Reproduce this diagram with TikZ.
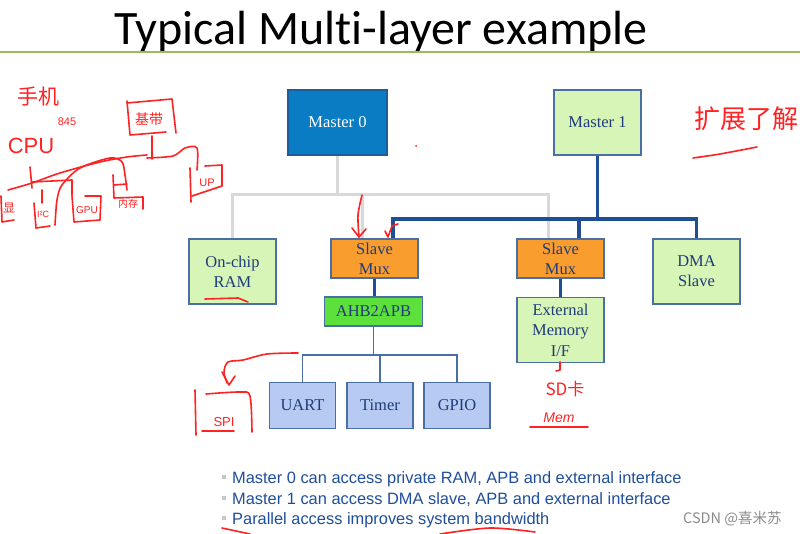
\documentclass[tikz,border=0pt]{standalone}
\usepackage{fontspec}
\setmainfont{Liberation Serif}
\newfontfamily\titlefont[Ligatures={NoCommon}]{Carlito}
\newfontfamily\bulfont{Liberation Sans}
\newfontfamily\cjkfont{Noto Sans CJK SC}
\definecolor{navy}{HTML}{1F3B78}
\definecolor{boxedge}{HTML}{4A6FA5}
\definecolor{mzero}{HTML}{0A7CC4}
\definecolor{mzeroedge}{HTML}{1E5C9C}
\definecolor{lgreen}{HTML}{D8F5B8}
\definecolor{muxorange}{HTML}{F99D2E}
\definecolor{bgreen}{HTML}{5EE03C}
\definecolor{lblue}{HTML}{B7CAF2}
\definecolor{busgray}{HTML}{D9D9D9}
\definecolor{busblue}{HTML}{1F4E96}
\definecolor{titlegreen}{HTML}{9BBB59}
\definecolor{bultext}{HTML}{1F4E9A}
\definecolor{inkred}{HTML}{FF2222}
\tikzset{
  blk/.style={draw=boxedge, line width=1.2pt, inner sep=0pt, align=center,
    font=\fontsize{16.5}{20}\selectfont, text=navy},
  greenbox/.style={blk, fill=lgreen},
  muxbox/.style={blk, fill=muxorange, minimum width=87pt, minimum height=39pt},
  periph/.style={blk, fill=lblue, minimum width=66pt, minimum height=46pt},
  gbus/.style={draw=busgray, line width=3pt},
  bbus/.style={draw=busblue, line width=3.5pt},
  apb/.style={draw=boxedge, line width=1.3pt},
  bulline/.style={anchor=base west, font=\bulfont\fontsize{16.4}{20}\selectfont, text=bultext, inner sep=0pt},
  bulsq/.style={fill=black!22, minimum size=4pt, inner sep=0pt},
  ink/.style={draw=inkred, line width=1.6pt, line cap=round, line join=round},
  inktext/.style={text=inkred, inner sep=0pt}
}
\begin{document}
\begin{tikzpicture}[x=1pt,y=-1pt]
\useasboundingbox (0,0) rectangle (800,534);
\fill[white] (0,0) rectangle (800,534);

% title
\node[font=\titlefont\fontsize{48}{48}\selectfont, anchor=base, inner sep=0pt] (title) at (381,45) {Typical Multi-layer example};
\coordinate (tl) at (0,52);
\coordinate (tr) at (800,52);
\draw[titlegreen, line width=2.5pt] (tl) -- (tr);

% blocks
\node[blk, fill=mzero, draw=mzeroedge, text=white, minimum width=99pt, minimum height=65pt] (m0) at (337.5,122.5) {Master 0};
\node[greenbox, minimum width=87pt, minimum height=65pt] (m1) at (597.5,122.5) {Master 1};
\node[greenbox, minimum width=87pt, minimum height=65pt] (ram) at (232.5,271.5) {On-chip\\RAM};
\node[muxbox] (mux1) at (374.5,258.5) {Slave\\Mux};
\node[muxbox] (mux2) at (560.5,258.5) {Slave\\Mux};
\node[greenbox, minimum width=87pt, minimum height=65pt] (dma) at (696.5,271.5) {DMA\\Slave};
\node[blk, fill=bgreen, minimum width=98pt, minimum height=29pt] (ahb) at (373.5,311.5) {AHB2APB};
\node[greenbox, minimum width=87pt, minimum height=65pt, font=\fontsize{16.5}{20.5}\selectfont] (ext) at (560.5,330) {External\\Memory\\I/F};
\node[periph] (uart) at (302.5,405.5) {UART};
\node[periph] (timer) at (380,405.5) {Timer};
\node[periph] (gpio) at (457,405.5) {GPIO};

% gray bus (master 0)
\coordinate (gy) at (0,195);
\draw[gbus] (m0.south) -- (m0.south |- gy);
\draw[gbus] (ram.north) -- (ram.north |- gy) -- ([xshift=-12.5pt]mux2.north |- gy) -- ([xshift=-12.5pt]mux2.north);
\draw[gbus] ([xshift=-12.5pt]mux1.north) -- ([xshift=-12.5pt]mux1.north |- gy);

% blue bus (master 1)
\coordinate (by) at (0,219);
\draw[bbus] (m1.south) -- (m1.south |- by);
\draw[bbus] ([xshift=18.5pt]mux1.north) -- ([xshift=18.5pt]mux1.north |- by) -- (dma.north |- by) -- (dma.north);
\draw[bbus] ([xshift=18.5pt]mux2.north) -- ([xshift=18.5pt]mux2.north |- by);
\draw[bbus] (mux1.south) -- (mux1.south |- ahb.north);
\draw[bbus] (mux2.south) -- (ext.north);

% APB
\coordinate (ay) at (0,355);
\draw[apb] (ahb.south) -- (ahb.south |- ay);
\draw[apb] (uart.north) -- (uart.north |- ay) -- (gpio.north |- ay) -- (gpio.north);
\draw[apb] (timer.north) -- (timer.north |- ay);

% bullets
\node[bulsq] (s1) at (223.5,477) {};
\node[bulsq] (s2) at (223.5,498) {};
\node[bulsq] (s3) at (223.5,518) {};
\node[bulline] (b1) at (232,483) {Master 0 can access private RAM, APB and external interface};
\node[bulline] (b2) at (232,504) {Master 1 can access DMA slave, APB and external interface};
\node[bulline] (b3) at (232,524) {Parallel access improves system bandwidth};

% watermark
\node[anchor=base west, inner sep=0pt, font=\cjkfont\fontsize{14.5}{14.5}\selectfont, text=black!45] (wm) at (683,523) {CSDN @喜米苏};

% ---- red handwritten annotations ----
\node[inktext, font=\cjkfont\fontsize{21}{21}\selectfont] (sj) at (38,97) {手机};
\node[inktext, font=\bulfont\fontsize{22}{22}\selectfont] (cpu) at (31,146) {CPU};
\node[inktext, font=\bulfont\fontsize{11}{11}\selectfont] (n845) at (67,122) {845};
\node[inktext, font=\cjkfont\fontsize{14}{14}\selectfont] (jd) at (149,119) {基带};
\draw[ink] (127,103) -- (172,99) -- (176,133);
\draw[ink] (127,101) -- (130,135) -- (166,132);
\draw[ink] (152,136) -- (152,159);
\draw[ink] plot[smooth] coordinates {(8,190) (32,183) (60,173) (100,162) (127,157) (147,155)};
\draw[ink] plot[smooth] coordinates {(147,158) (173,156) (185,148) (197,148) (197,170)};
\draw[ink] (30,167) -- (32,188);
\draw[ink] (32,182) -- (72,180) -- (72,195);
\draw[ink] (42,190) -- (42,203);
\draw[ink] plot[smooth] coordinates {(55,225) (57,200) (62,185) (80,168) (110,158) (122,162) (125,175) (127,190)};
% small boxes
\draw[ink] (1,196) -- (2,222) -- (14,220);
\node[inktext, font=\cjkfont\fontsize{12}{12}\selectfont] (xian) at (9,208) {显};
\draw[ink] (34,203) -- (36,228) -- (50,226);
\node[inktext, font=\bulfont\fontsize{9}{9}\selectfont] (i2c) at (43,214) {I²C};
\draw[ink] (72,196) -- (74,222) -- (100,220) -- (101,196) -- (85,196);
\node[inktext, font=\bulfont\fontsize{10}{10}\selectfont] (gpu) at (87,210) {GPU};
\draw[ink] (113,175) -- (114,198) -- (143,197) -- (143,209);
\draw[ink] (114,185) -- (127,184);
\node[inktext, font=\cjkfont\fontsize{10}{10}\selectfont] (nc) at (128,204) {内存};
\draw[ink] (190,168) -- (191,202);
\draw[ink] (192,196) -- (222,186) -- (222,165) -- (205,166);
\node[inktext, font=\bulfont\fontsize{11}{11}\selectfont] (up) at (207,183) {UP};

% right note
\node[inktext, font=\cjkfont\fontsize{26}{26}\selectfont] (kz) at (746,119) {扩展了解};
\draw[ink] plot[smooth] coordinates {(693,158) (720,154) (757,147)};

% arrows into slave mux
\draw[ink] plot[smooth] coordinates {(362,195) (358,215) (359,237)};
\draw[ink] (352,228) -- (359,237) -- (366,229);
\draw[ink] (385,231) -- (388,237) -- (392,226) -- (398,224);
\draw[ink] (205,299) -- (238,298) -- (248,302);
\fill[inkred] (416,146) circle (1pt);

% SPI
\draw[ink] plot[smooth] coordinates {(298,353) (267,354) (243,360) (228,362) (224,372) (227,383)};
\draw[ink] (222,372) -- (229,385) -- (235,376);
\draw[ink] (195,390) -- (196,435);
\draw[ink] plot[smooth] coordinates {(206,394) (240,392) (250,396) (252,432)};
\node[inktext, font=\bulfont\fontsize{13}{13}\selectfont] (spi) at (224,422) {SPI};
\draw[ink] (202,431) -- (234,431);

% external memory notes
\draw[ink] (560,362) -- (560,370) -- (556,371);
\node[inktext, font=\cjkfont\fontsize{17}{17}\selectfont] (sd) at (565,389) {SD卡};
\node[inktext, font=\bulfont\itshape\fontsize{14}{14}\selectfont] (mem) at (559,418) {Mem};
\draw[ink] (530,427) -- (588,427);

% bottom underline
\draw[ink] (222,528) -- (250,534);
\draw[ink] plot[smooth] coordinates {(440,534) (490,528) (535,532)};
\end{tikzpicture}
\end{document}
